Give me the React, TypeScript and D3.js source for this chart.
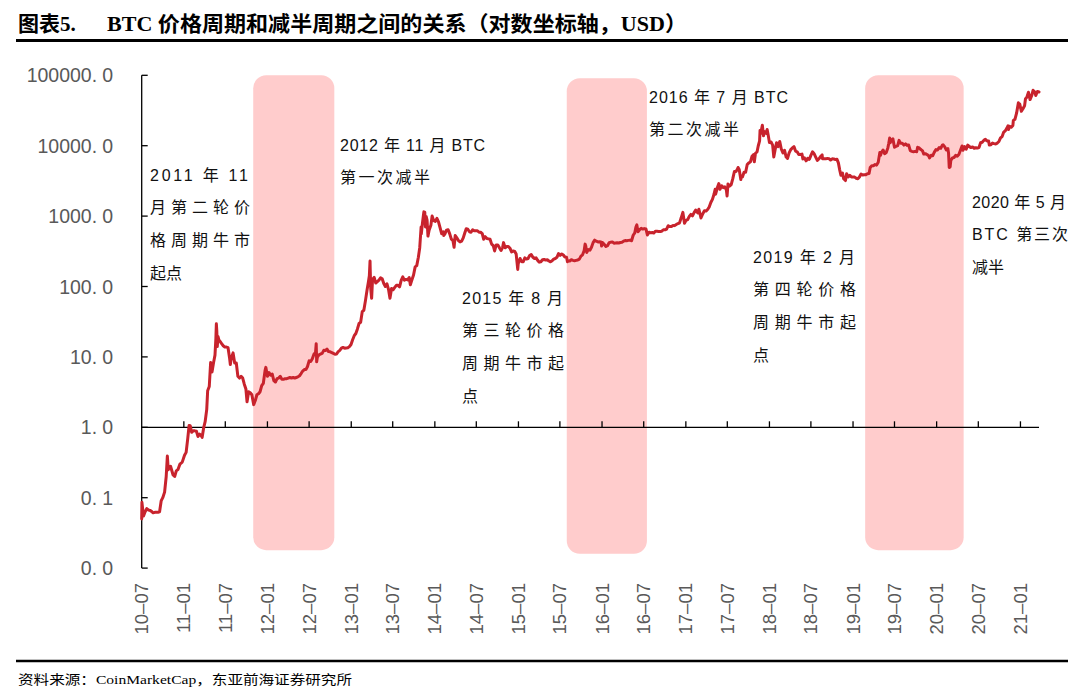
import React from "react";
import * as d3 from "d3";

// BTC price (USD)
const priceSeries: [string, number][] = [
  ["2010-07-17", 0.05], ["2010-07-18", 0.086], ["2010-07-20", 0.075], ["2010-07-25", 0.055],
  ["2010-08-01", 0.063], ["2010-08-08", 0.07], ["2010-08-15", 0.067], ["2010-08-22", 0.066],
  ["2010-08-29", 0.064], ["2010-09-05", 0.061], ["2010-09-12", 0.062], ["2010-09-19", 0.062],
  ["2010-09-26", 0.062], ["2010-10-03", 0.063], ["2010-10-10", 0.09], ["2010-10-17", 0.1],
  ["2010-10-25", 0.12], ["2010-11-01", 0.2], ["2010-11-06", 0.39], ["2010-11-10", 0.25],
  ["2010-11-14", 0.27], ["2010-11-20", 0.28], ["2010-12-01", 0.21], ["2010-12-08", 0.2],
  ["2010-12-15", 0.24], ["2010-12-22", 0.25], ["2010-12-31", 0.3], ["2011-01-10", 0.32],
  ["2011-01-20", 0.4], ["2011-01-27", 0.44], ["2011-02-03", 0.69], ["2011-02-09", 1.06],
  ["2011-02-14", 1.05], ["2011-02-20", 0.85], ["2011-02-27", 0.89], ["2011-03-06", 0.89],
  ["2011-03-13", 0.88], ["2011-03-20", 0.74], ["2011-03-27", 0.8], ["2011-04-01", 0.78],
  ["2011-04-07", 0.72], ["2011-04-14", 1.0], ["2011-04-20", 1.2], ["2011-04-27", 1.8],
  ["2011-05-01", 3.3], ["2011-05-08", 3.8], ["2011-05-14", 8.3], ["2011-05-20", 6.1],
  ["2011-05-27", 8.4], ["2011-06-02", 10.6], ["2011-06-06", 18.5], ["2011-06-08", 29.6],
  ["2011-06-10", 23], ["2011-06-12", 14], ["2011-06-15", 19.5], ["2011-06-19", 17.5],
  ["2011-06-25", 16.5], ["2011-07-01", 15.4], ["2011-07-08", 14.4], ["2011-07-15", 13.8],
  ["2011-07-22", 13.8], ["2011-07-29", 13.5], ["2011-08-05", 9.5], ["2011-08-08", 7.8],
  ["2011-08-12", 9.6], ["2011-08-20", 11.4], ["2011-08-27", 8.2], ["2011-09-03", 8.2],
  ["2011-09-10", 5.3], ["2011-09-17", 5.0], ["2011-09-24", 5.3], ["2011-10-01", 5.0],
  ["2011-10-08", 4.1], ["2011-10-15", 3.5], ["2011-10-20", 2.3], ["2011-10-27", 3.2],
  ["2011-11-03", 3.1], ["2011-11-10", 2.9], ["2011-11-18", 2.1], ["2011-11-25", 2.4],
  ["2011-12-02", 2.9], ["2011-12-09", 3.0], ["2011-12-16", 3.2], ["2011-12-23", 3.9],
  ["2011-12-30", 4.2], ["2012-01-07", 6.5], ["2012-01-10", 7.1], ["2012-01-17", 5.3],
  ["2012-01-24", 6.0], ["2012-01-31", 5.5], ["2012-02-07", 5.7], ["2012-02-14", 4.6],
  ["2012-02-21", 4.4], ["2012-02-28", 4.9], ["2012-03-06", 5.0], ["2012-03-13", 5.3],
  ["2012-03-20", 4.8], ["2012-03-27", 4.8], ["2012-04-03", 4.9], ["2012-04-10", 4.9],
  ["2012-04-17", 5.0], ["2012-04-24", 5.1], ["2012-05-01", 5.0], ["2012-05-08", 5.1],
  ["2012-05-15", 5.0], ["2012-05-22", 5.1], ["2012-05-29", 5.2], ["2012-06-05", 5.4],
  ["2012-06-12", 5.8], ["2012-06-19", 6.3], ["2012-06-26", 6.6], ["2012-07-03", 6.6],
  ["2012-07-10", 7.3], ["2012-07-17", 8.8], ["2012-07-24", 8.6], ["2012-07-31", 9.4],
  ["2012-08-07", 10.9], ["2012-08-14", 11.6], ["2012-08-17", 15.4], ["2012-08-19", 8.5],
  ["2012-08-22", 9.9], ["2012-08-29", 10.7], ["2012-09-05", 11.0], ["2012-09-12", 11.2],
  ["2012-09-19", 12.4], ["2012-09-26", 12.3], ["2012-10-03", 12.9], ["2012-10-10", 11.9],
  ["2012-10-17", 11.8], ["2012-10-24", 11.5], ["2012-10-31", 11.2], ["2012-11-07", 10.9],
  ["2012-11-14", 11.0], ["2012-11-21", 11.9], ["2012-11-28", 12.4], ["2012-12-05", 13.3],
  ["2012-12-12", 13.6], ["2012-12-19", 13.3], ["2012-12-26", 13.4], ["2013-01-02", 13.5],
  ["2013-01-09", 14], ["2013-01-16", 15], ["2013-01-23", 17.5], ["2013-01-30", 20],
  ["2013-02-06", 21.5], ["2013-02-13", 25], ["2013-02-20", 29.8], ["2013-02-27", 31],
  ["2013-03-06", 44], ["2013-03-13", 46], ["2013-03-20", 63], ["2013-03-27", 89],
  ["2013-04-02", 117], ["2013-04-06", 142], ["2013-04-09", 230], ["2013-04-10", 165],
  ["2013-04-12", 93], ["2013-04-16", 68], ["2013-04-20", 126], ["2013-04-27", 135],
  ["2013-05-04", 112], ["2013-05-11", 117], ["2013-05-18", 123], ["2013-05-25", 133],
  ["2013-06-01", 129], ["2013-06-08", 110], ["2013-06-15", 100], ["2013-06-22", 109],
  ["2013-06-29", 90], ["2013-07-05", 68], ["2013-07-12", 94], ["2013-07-19", 90],
  ["2013-07-26", 97], ["2013-08-02", 104], ["2013-08-09", 104], ["2013-08-16", 99],
  ["2013-08-23", 122], ["2013-08-30", 137], ["2013-09-06", 123], ["2013-09-13", 126],
  ["2013-09-20", 124], ["2013-09-27", 134], ["2013-10-02", 106], ["2013-10-09", 125],
  ["2013-10-16", 146], ["2013-10-23", 190], ["2013-10-30", 198], ["2013-11-06", 260],
  ["2013-11-12", 356], ["2013-11-18", 700], ["2013-11-19", 560], ["2013-11-24", 800],
  ["2013-11-30", 1150], ["2013-12-04", 1140], ["2013-12-07", 700], ["2013-12-10", 990],
  ["2013-12-14", 880], ["2013-12-18", 520], ["2013-12-23", 630], ["2013-12-31", 750],
  ["2014-01-05", 1000], ["2014-01-12", 860], ["2014-01-19", 840], ["2014-01-26", 930],
  ["2014-02-02", 830], ["2014-02-09", 680], ["2014-02-16", 560], ["2014-02-23", 600],
  ["2014-02-25", 530], ["2014-03-02", 560], ["2014-03-09", 630], ["2014-03-16", 640],
  ["2014-03-23", 560], ["2014-03-30", 470], ["2014-04-06", 450], ["2014-04-11", 360],
  ["2014-04-16", 530], ["2014-04-23", 490], ["2014-04-30", 450], ["2014-05-07", 430],
  ["2014-05-14", 440], ["2014-05-21", 490], ["2014-05-28", 580], ["2014-06-03", 660],
  ["2014-06-10", 650], ["2014-06-17", 600], ["2014-06-24", 590], ["2014-07-01", 640],
  ["2014-07-08", 620], ["2014-07-15", 620], ["2014-07-22", 620], ["2014-07-29", 590],
  ["2014-08-05", 590], ["2014-08-12", 565], ["2014-08-18", 470], ["2014-08-25", 510],
  ["2014-09-01", 480], ["2014-09-08", 475], ["2014-09-15", 470], ["2014-09-22", 400],
  ["2014-09-29", 380], ["2014-10-05", 320], ["2014-10-12", 390], ["2014-10-19", 390],
  ["2014-10-26", 355], ["2014-11-02", 325], ["2014-11-09", 360], ["2014-11-13", 420],
  ["2014-11-20", 355], ["2014-11-27", 370], ["2014-12-04", 370], ["2014-12-11", 350],
  ["2014-12-18", 310], ["2014-12-25", 320], ["2015-01-01", 315], ["2015-01-07", 290],
  ["2015-01-14", 175], ["2015-01-16", 210], ["2015-01-24", 250], ["2015-01-31", 225],
  ["2015-02-07", 225], ["2015-02-14", 255], ["2015-02-21", 245], ["2015-02-28", 250],
  ["2015-03-07", 275], ["2015-03-14", 285], ["2015-03-21", 260], ["2015-03-28", 250],
  ["2015-04-04", 255], ["2015-04-11", 235], ["2015-04-18", 222], ["2015-04-25", 225],
  ["2015-05-02", 240], ["2015-05-09", 242], ["2015-05-16", 237], ["2015-05-23", 240],
  ["2015-05-30", 230], ["2015-06-06", 224], ["2015-06-13", 232], ["2015-06-20", 245],
  ["2015-06-27", 250], ["2015-07-04", 260], ["2015-07-11", 293], ["2015-07-18", 277],
  ["2015-07-25", 290], ["2015-08-01", 280], ["2015-08-08", 262], ["2015-08-15", 260],
  ["2015-08-19", 225], ["2015-08-22", 230], ["2015-08-29", 230], ["2015-09-05", 240],
  ["2015-09-12", 235], ["2015-09-19", 232], ["2015-09-26", 235], ["2015-10-03", 238],
  ["2015-10-10", 245], ["2015-10-17", 270], ["2015-10-24", 282], ["2015-10-31", 325],
  ["2015-11-04", 400], ["2015-11-07", 375], ["2015-11-11", 305], ["2015-11-18", 335],
  ["2015-11-25", 328], ["2015-12-02", 360], ["2015-12-09", 420], ["2015-12-16", 455],
  ["2015-12-23", 440], ["2015-12-30", 430], ["2016-01-06", 432], ["2016-01-13", 430],
  ["2016-01-15", 375], ["2016-01-20", 420], ["2016-01-27", 395], ["2016-02-03", 370],
  ["2016-02-10", 380], ["2016-02-17", 420], ["2016-02-24", 425], ["2016-03-02", 430],
  ["2016-03-09", 412], ["2016-03-16", 415], ["2016-03-23", 418], ["2016-03-30", 415],
  ["2016-04-06", 422], ["2016-04-13", 425], ["2016-04-20", 440], ["2016-04-27", 450],
  ["2016-05-04", 447], ["2016-05-11", 452], ["2016-05-18", 455], ["2016-05-25", 447],
  ["2016-06-01", 535], ["2016-06-08", 578], ["2016-06-13", 700], ["2016-06-17", 750],
  ["2016-06-22", 600], ["2016-06-29", 640], ["2016-07-06", 670], ["2016-07-13", 655],
  ["2016-07-20", 665], ["2016-07-27", 655], ["2016-08-02", 540], ["2016-08-09", 590],
  ["2016-08-16", 578], ["2016-08-23", 585], ["2016-08-30", 575], ["2016-09-06", 610],
  ["2016-09-13", 608], ["2016-09-20", 605], ["2016-09-27", 606], ["2016-10-04", 610],
  ["2016-10-11", 640], ["2016-10-18", 638], ["2016-10-25", 655], ["2016-11-01", 730],
  ["2016-11-08", 710], ["2016-11-15", 712], ["2016-11-22", 738], ["2016-11-29", 732],
  ["2016-12-06", 760], ["2016-12-13", 780], ["2016-12-20", 795], ["2016-12-27", 930],
  ["2017-01-04", 1130], ["2017-01-11", 790], ["2017-01-18", 870], ["2017-01-25", 890],
  ["2017-02-01", 990], ["2017-02-08", 1060], ["2017-02-15", 1010], ["2017-02-22", 1120],
  ["2017-03-01", 1220], ["2017-03-10", 1110], ["2017-03-15", 1250], ["2017-03-24", 940],
  ["2017-04-01", 1080], ["2017-04-08", 1190], ["2017-04-15", 1180], ["2017-04-22", 1240],
  ["2017-04-29", 1350], ["2017-05-06", 1560], ["2017-05-13", 1730], ["2017-05-20", 2040],
  ["2017-05-25", 2400], ["2017-05-27", 2050], ["2017-06-03", 2500], ["2017-06-10", 2900],
  ["2017-06-12", 2650], ["2017-06-15", 2400], ["2017-06-22", 2700], ["2017-06-29", 2540],
  ["2017-07-06", 2600], ["2017-07-13", 2350], ["2017-07-16", 1930], ["2017-07-20", 2860],
  ["2017-07-27", 2670], ["2017-08-03", 2800], ["2017-08-10", 3400], ["2017-08-17", 4300],
  ["2017-08-24", 4300], ["2017-08-31", 4700], ["2017-09-02", 4900], ["2017-09-07", 4600],
  ["2017-09-14", 3300], ["2017-09-15", 3700], ["2017-09-21", 3600], ["2017-09-28", 4200],
  ["2017-10-05", 4200], ["2017-10-12", 5400], ["2017-10-19", 5700], ["2017-10-26", 5900],
  ["2017-11-02", 7100], ["2017-11-08", 7450], ["2017-11-12", 5900], ["2017-11-17", 7800],
  ["2017-11-24", 8200], ["2017-11-29", 9900], ["2017-12-05", 11700], ["2017-12-07", 16500],
  ["2017-12-10", 15000], ["2017-12-17", 19500], ["2017-12-22", 13800], ["2017-12-27", 15800],
  ["2018-01-03", 15000], ["2018-01-07", 17000], ["2018-01-12", 13800], ["2018-01-17", 11100],
  ["2018-01-24", 11300], ["2018-01-31", 10200], ["2018-02-05", 6900], ["2018-02-10", 8500],
  ["2018-02-17", 11000], ["2018-02-24", 9700], ["2018-03-03", 11500], ["2018-03-10", 8900],
  ["2018-03-17", 7900], ["2018-03-24", 8600], ["2018-03-31", 6900], ["2018-04-06", 6600],
  ["2018-04-13", 7900], ["2018-04-20", 8800], ["2018-04-27", 9300], ["2018-05-04", 9700],
  ["2018-05-11", 8400], ["2018-05-18", 8200], ["2018-05-25", 7500], ["2018-06-01", 7500],
  ["2018-06-08", 7600], ["2018-06-12", 6500], ["2018-06-19", 6700], ["2018-06-26", 6100],
  ["2018-07-03", 6600], ["2018-07-10", 6400], ["2018-07-17", 7300], ["2018-07-24", 8200],
  ["2018-07-31", 7700], ["2018-08-07", 6900], ["2018-08-14", 6200], ["2018-08-21", 6500],
  ["2018-08-28", 7000], ["2018-09-04", 7400], ["2018-09-06", 6500], ["2018-09-13", 6500],
  ["2018-09-20", 6500], ["2018-09-27", 6600], ["2018-10-04", 6550], ["2018-10-11", 6250],
  ["2018-10-18", 6500], ["2018-10-25", 6480], ["2018-11-01", 6350], ["2018-11-08", 6400],
  ["2018-11-14", 5700], ["2018-11-20", 4500], ["2018-11-25", 3800], ["2018-12-02", 4100],
  ["2018-12-07", 3400], ["2018-12-15", 3200], ["2018-12-20", 4000], ["2018-12-27", 3600],
  ["2019-01-03", 3800], ["2019-01-10", 3600], ["2019-01-17", 3600], ["2019-01-24", 3580],
  ["2019-01-31", 3450], ["2019-02-07", 3400], ["2019-02-14", 3600], ["2019-02-21", 3950],
  ["2019-02-28", 3830], ["2019-03-07", 3870], ["2019-03-14", 3880], ["2019-03-21", 4000],
  ["2019-03-28", 4030], ["2019-04-02", 4900], ["2019-04-09", 5200], ["2019-04-16", 5200],
  ["2019-04-23", 5400], ["2019-04-30", 5300], ["2019-05-07", 5800], ["2019-05-14", 8000],
  ["2019-05-17", 7300], ["2019-05-21", 8000], ["2019-05-28", 8700], ["2019-06-04", 7700],
  ["2019-06-11", 8000], ["2019-06-18", 9300], ["2019-06-22", 10800], ["2019-06-26", 12900],
  ["2019-06-28", 11000], ["2019-07-03", 11900], ["2019-07-10", 12500], ["2019-07-17", 9500],
  ["2019-07-24", 9800], ["2019-07-31", 10000], ["2019-08-06", 11900], ["2019-08-13", 10800],
  ["2019-08-20", 10800], ["2019-08-27", 10200], ["2019-09-03", 10600], ["2019-09-10", 10100],
  ["2019-09-17", 10200], ["2019-09-24", 8500], ["2019-10-01", 8300], ["2019-10-08", 8200],
  ["2019-10-15", 8300], ["2019-10-22", 8200], ["2019-10-26", 9500], ["2019-11-02", 9300],
  ["2019-11-09", 8800], ["2019-11-16", 8500], ["2019-11-22", 7600], ["2019-11-29", 7700],
  ["2019-12-06", 7500], ["2019-12-13", 7200], ["2019-12-17", 6700], ["2019-12-24", 7300],
  ["2019-12-31", 7200], ["2020-01-07", 8100], ["2020-01-14", 8800], ["2020-01-21", 8700],
  ["2020-01-28", 9400], ["2020-02-04", 9200], ["2020-02-11", 10200], ["2020-02-14", 10300],
  ["2020-02-21", 9700], ["2020-02-28", 8700], ["2020-03-06", 9100], ["2020-03-09", 7900],
  ["2020-03-12", 4900], ["2020-03-16", 5000], ["2020-03-19", 6200], ["2020-03-26", 6700],
  ["2020-04-02", 6800], ["2020-04-09", 7300], ["2020-04-16", 7100], ["2020-04-23", 7500],
  ["2020-04-30", 8600], ["2020-05-07", 9900], ["2020-05-11", 8600], ["2020-05-18", 9700],
  ["2020-05-25", 8900], ["2020-06-01", 10200], ["2020-06-08", 9700], ["2020-06-15", 9400],
  ["2020-06-22", 9600], ["2020-06-29", 9200], ["2020-07-06", 9350], ["2020-07-13", 9250],
  ["2020-07-20", 9400], ["2020-07-27", 11000], ["2020-08-03", 11200], ["2020-08-10", 11900],
  ["2020-08-17", 12300], ["2020-08-24", 11700], ["2020-08-31", 11700], ["2020-09-03", 10200],
  ["2020-09-10", 10300], ["2020-09-17", 10900], ["2020-09-24", 10700], ["2020-10-01", 10600],
  ["2020-10-08", 10900], ["2020-10-15", 11500], ["2020-10-22", 12900], ["2020-10-29", 13500],
  ["2020-11-05", 15600], ["2020-11-12", 16300], ["2020-11-19", 17800], ["2020-11-24", 19200],
  ["2020-11-26", 17000], ["2020-12-01", 18800], ["2020-12-08", 18300], ["2020-12-15", 19400],
  ["2020-12-17", 22800], ["2020-12-24", 23700], ["2020-12-31", 29000], ["2021-01-03", 32800],
  ["2021-01-08", 40800], ["2021-01-11", 35500], ["2021-01-14", 39100], ["2021-01-21", 30800],
  ["2021-01-28", 33500], ["2021-02-04", 36900], ["2021-02-08", 46400], ["2021-02-14", 48700],
  ["2021-02-21", 57500], ["2021-02-28", 45200], ["2021-03-07", 51200], ["2021-03-13", 61200],
  ["2021-03-20", 58300], ["2021-03-25", 51700], ["2021-04-01", 59000], ["2021-04-08", 58000],
];

// shaded periods: bull-market start -> halving
const bandStarts = ["2011-11-16", "2015-08-16", "2019-03-11"];
const bandEnds = ["2012-11-04", "2016-07-31", "2020-05-14"];
const bandTops = [100000, 91000, 100000];
const bandBottoms = [0.018, 0.016, 0.018];

const yTickValues = [0.01, 0.1, 1, 10, 100, 1000, 10000, 100000];
const xTickLabels = [
  "10-07", "11-01", "11-07", "12-01", "12-07", "13-01", "13-07", "14-01", "14-07",
  "15-01", "15-07", "16-01", "16-07", "17-01", "17-07", "18-01", "18-07", "19-01",
  "19-07", "20-01", "20-07", "21-01",
];

const annotations: { lines: string[]; x: number; y: number; widths: number[] }[] = [
  { lines: ["2011  年  11", "月第二轮价", "格周期牛市", "起点"], x: 150, y: 175, widths: [98, 100, 100, 0] },
  { lines: ["2012 年 11 月 BTC", "第一次减半"], x: 340, y: 145, widths: [145, 90] },
  { lines: ["2015 年 8 月", "第三轮价格", "周期牛市起", "点"], x: 462, y: 298, widths: [101, 102, 102, 0] },
  { lines: ["2016 年 7 月 BTC", "第二次减半"], x: 649, y: 97, widths: [139, 90] },
  { lines: ["2019 年 2 月", "第四轮价格", "周期牛市起", "点"], x: 753, y: 257, widths: [102, 103, 103, 0] },
  { lines: ["2020 年 5 月", "BTC  第三次", "减半"], x: 972, y: 202, widths: [94, 96, 0] },
];

const parse = d3.timeParse("%Y-%m-%d");

export default function App() {
  const W = 1080;
  const H = 696;
  const x = d3
    .scaleTime()
    .domain([new Date(2010, 6, 17), new Date(2021, 3, 8)])
    .range([141.7, 1039]);
  const y = d3.scaleLog().domain([0.01, 100000]).range([568.1, 75.3]);

  const data = priceSeries.map(([d, v]) => ({ date: parse(d) as Date, value: v }));
  const line = d3
    .line<{ date: Date; value: number }>()
    .x((d) => x(d.date))
    .y((d) => y(d.value));

  const tickDates = xTickLabels.map((l) => {
    const [yy, mm] = l.split("-").map(Number);
    return new Date(2000 + yy, mm - 1, 17);
  });

  const lineGap = 32.7;
  const sans = '"Liberation Sans", Arial, "Noto Sans CJK SC", sans-serif';
  const serif = '"Liberation Serif", "Times New Roman", "Noto Sans CJK SC", serif';

  return (
    <svg
      width={W}
      height={H}
      viewBox={`0 0 ${W} ${H}`}
      style={{ position: "absolute", left: 0, top: 0, display: "block", background: "#fff" }}
    >
      <rect x={0} y={0} width={W} height={H} fill="#fff" />
      {/* Title */}
      <text x={18} y={31} fontFamily={serif} fontWeight="bold" fontSize={21} fill="#000">
        图表5.
      </text>
      <text
        x={107}
        y={31}
        fontFamily={serif}
        fontWeight="bold"
        fontSize={21}
        fill="#000"
        textLength={580}
        lengthAdjust="spacingAndGlyphs"
      >
        BTC 价格周期和减半周期之间的关系（对数坐标轴，USD）
      </text>
      <line x1={16} x2={1068} y1={40.5} y2={40.5} stroke="#000" strokeWidth={3} />

      {/* Bands */}
      {bandStarts.map((s, i) => {
        const x0 = x(parse(s) as Date);
        const x1 = x(parse(bandEnds[i]) as Date);
        const y0 = y(bandTops[i]);
        const y1 = y(bandBottoms[i]);
        return (
          <rect key={s} x={x0} y={y0} width={x1 - x0} height={y1 - y0} rx={13} ry={13} fill="#FFCCCC" />
        );
      })}

      {/* Y axis */}
      <line x1={x.range()[0]} x2={x.range()[0]} y1={y(100000)} y2={y(0.01)} stroke="#000" strokeWidth={1.3} />
      {yTickValues.map((v) => (
        <g key={v}>
          <line x1={x.range()[0]} x2={x.range()[0] + 6} y1={y(v)} y2={y(v)} stroke="#000" strokeWidth={1.3} />
          <text
            x={113}
            y={y(v)}
            textAnchor="end"
            dominantBaseline="central"
            fontFamily={sans}
            fontSize={19.5}
            fill="#595959"
          >
            {v.toFixed(1).split(".")[0]}.<tspan dx={5}>{v.toFixed(1).split(".")[1]}</tspan>
          </text>
        </g>
      ))}

      {/* X axis at 1.0 */}
      <line x1={x.range()[0]} x2={x.range()[1]} y1={y(1)} y2={y(1)} stroke="#000" strokeWidth={1.3} />
      {tickDates.map((d, i) => (
        <g key={xTickLabels[i]}>
          {i > 0 && (
            <line x1={x(d)} x2={x(d)} y1={y(1)} y2={y(1) - 6} stroke="#000" strokeWidth={1.3} />
          )}
          <text
            transform={`translate(${x(d)},583) rotate(-90)`}
            textAnchor="end"
            dominantBaseline="central"
            fontFamily={sans}
            fontSize={18.5}
            fill="#595959"
          >
            {xTickLabels[i].replace("-", "–")}
          </text>
        </g>
      ))}

      {/* Price line */}
      <path
        d={line(data) || ""}
        fill="none"
        stroke="#C8232D"
        strokeWidth={3}
        strokeLinejoin="round"
        strokeLinecap="round"
      />

      {/* Annotations */}
      {annotations.map((a, ai) => (
        <g key={ai}>
          {a.lines.map((t, li) => (
            <text
              key={li}
              x={a.x}
              y={a.y + li * lineGap}
              dominantBaseline="central"
              fontFamily={sans}
              fontSize={16}
              fill="#111"
              {...(a.widths[li] ? { textLength: a.widths[li], lengthAdjust: "spacing" } : {})}
            >
              {t}
            </text>
          ))}
        </g>
      ))}

      {/* Footer */}
      <line x1={16} x2={1068} y1={661} y2={661} stroke="#000" strokeWidth={2.5} />
      <text
        x={18}
        y={684}
        fontFamily={serif}
        fontSize={13}
        fill="#000"
        textLength={334}
        lengthAdjust="spacingAndGlyphs"
      >
        资料来源：CoinMarketCap，东亚前海证券研究所
      </text>
    </svg>
  );
}
